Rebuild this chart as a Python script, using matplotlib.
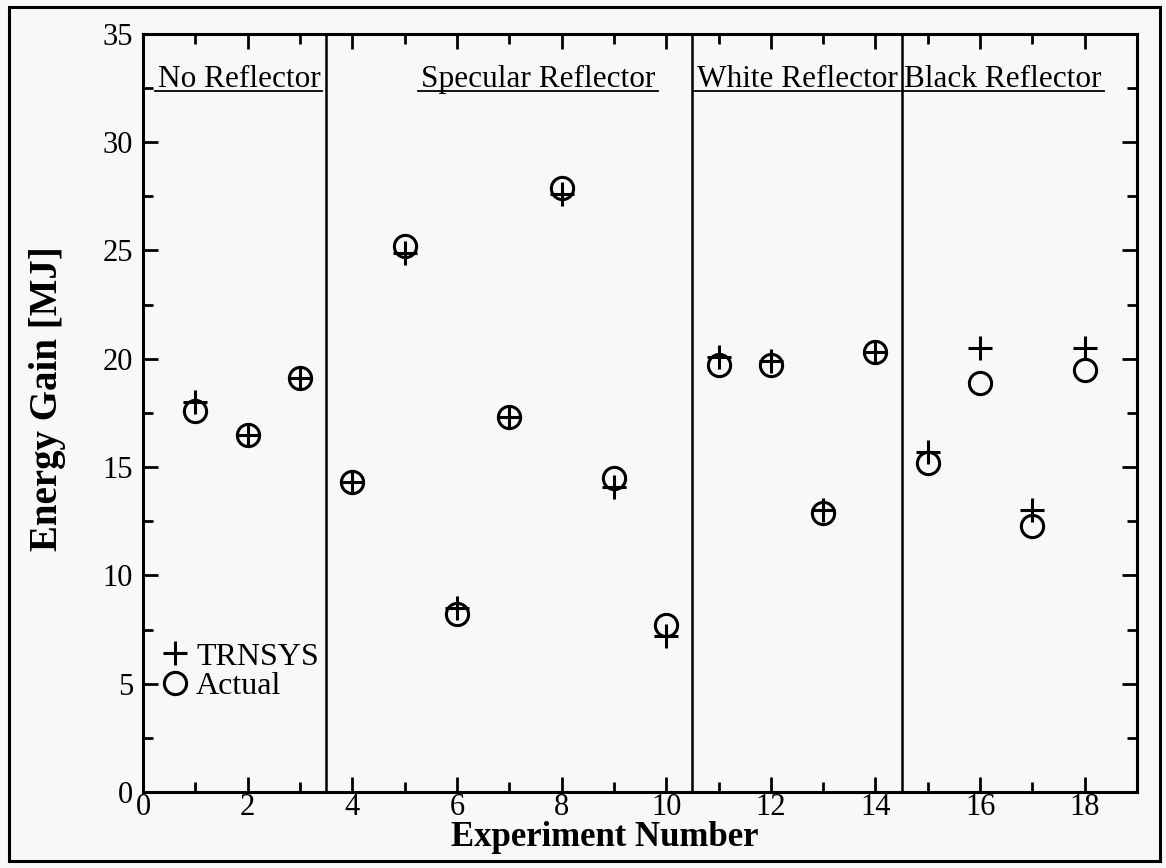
import matplotlib
matplotlib.use("Agg")
import matplotlib.pyplot as plt
from matplotlib.lines import Line2D
from matplotlib.patches import Rectangle

plt.rcParams['font.family'] = ['Liberation Serif', 'DejaVu Serif']

# data
experiments = [1, 2, 3, 4, 5, 6, 7, 8, 9, 10, 11, 12, 13, 14, 15, 16, 17, 18]
trnsys = [18.0, 16.5, 19.1, 14.3, 24.9, 8.5, 17.3, 27.6, 14.1, 7.2,
          20.1, 19.9, 13.0, 20.3, 15.7, 20.5, 13.0, 20.5]
actual = [17.6, 16.5, 19.1, 14.3, 25.2, 8.2, 17.3, 27.9, 14.5, 7.7,
          19.7, 19.7, 12.9, 20.3, 15.2, 18.9, 12.3, 19.5]
section_edges = [3.5, 10.5, 14.5]
section_names = ["No Reflector", "Specular Reflector", "White Reflector", "Black Reflector"]
section_x = [0.28, 7.56, 10.58, 16.44]
section_ha = ["left", "center", "left", "center"]

bg = "#f8f8f8"
fig = plt.figure(figsize=(11.66, 8.68), dpi=100, facecolor=bg)
ax = fig.add_axes([0.1226, 0.0876, 0.8526, 0.8734], facecolor=bg)

ax.plot(experiments, trnsys, linestyle="none", marker="+", markersize=17,
        markeredgewidth=2.2, color="black", label="TRNSYS")
ax.plot(experiments, actual, linestyle="none", marker="o", markersize=16,
        markerfacecolor="none", markeredgewidth=2.2, color="black", label="Actual")

for e in section_edges:
    ax.axvline(e, color="black", linewidth=1.8)

ax.set_xlim(0, 19)
ax.set_ylim(0, 35)
ax.set_xticks(range(0, 19, 2))
ax.set_xticks(range(1, 19, 2), minor=True)
ax.set_yticks(range(0, 36, 5))
ax.set_yticks([2.5 + 5 * i for i in range(7)], minor=True)
ax.tick_params(which="both", direction="in", top=True, right=True,
               labelsize=22, width=2, color="black")
ax.tick_params(which="major", length=11)
ax.tick_params(which="minor", length=7)
ax.tick_params(axis="x", pad=1)
ax.tick_params(axis="y", pad=7)
for s in ax.spines.values():
    s.set_linewidth(2.2)

fig.text(0.519, 0.035, "Experiment Number", fontsize=25, fontweight="bold",
         ha="center", va="center")
fig.text(0.041, 0.541, "Energy Gain [MJ]", fontsize=28, fontweight="bold",
         ha="center", va="center", rotation=90)

titles = []
for name, x, ha in zip(section_names, section_x, section_ha):
    t = ax.text(x, 32.55, name, fontsize=22.5, ha=ha, va="baseline")
    titles.append(t)

leg = ax.legend(loc="lower left", bbox_to_anchor=(0.018, 0.12), frameon=False,
                fontsize=23, handlelength=0.9, handletextpad=0.2,
                labelspacing=0.0, borderpad=0, borderaxespad=0)

# underline the section titles
fig.canvas.draw()
renderer = fig.canvas.get_renderer()
for t in titles:
    bb = t.get_window_extent(renderer)
    y = bb.y0 + 3
    fig.add_artist(Line2D([bb.x0 - 3, bb.x1 + 2], [y, y], transform=None,
                          color="black", linewidth=1.3))

# border around the whole figure
fig.add_artist(Rectangle((0.008, 0.008), 0.987, 0.984, transform=fig.transFigure,
                         fill=False, edgecolor="black", linewidth=2.2))

fig.savefig("out.png", dpi=100, facecolor=bg)
